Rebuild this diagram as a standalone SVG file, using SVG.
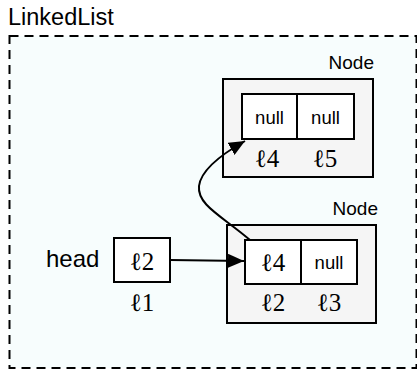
<svg xmlns="http://www.w3.org/2000/svg" width="417" height="372" viewBox="0 0 417 372">
<style>
.sans{font-family:"Liberation Sans",Arial,sans-serif;fill:#000}
.math{font-family:"Liberation Serif","DejaVu Serif",serif;font-size:25px;fill:#000;text-anchor:middle}
.nul{font-family:"Liberation Sans",Arial,sans-serif;font-size:18.5px;text-anchor:middle}
.lbl{font-size:19px;text-anchor:end}
.node{fill:#f5f5f5;stroke:#000;stroke-width:2}
.cell{fill:#fff;stroke:#000;stroke-width:2}
.conn{fill:none;stroke:#000;stroke-width:2}
</style>
<defs>
<marker id="ah2" viewBox="0 0 16 14" refX="16" refY="7" markerWidth="16" markerHeight="14" markerUnits="userSpaceOnUse" orient="auto">
<path d="M0,0 L16,7 L0,14 z" fill="#000"/>
</marker>
</defs>
<g id="linkedlist">
<rect x="9.5" y="36" width="407" height="332" fill="#f7fdfd" stroke="#000" stroke-width="2" stroke-dasharray="9,6"/>
<text class="sans" x="8" y="25" font-size="23.5">LinkedList</text>
</g>
<g id="node-top">
<rect class="node" x="223" y="79" width="150" height="98"/>
<text class="sans lbl" x="374" y="69">Node</text>
<rect class="cell" x="242" y="94" width="55" height="45"/>
<rect class="cell" x="297" y="94" width="57" height="45"/>
<text class="nul" x="269.5" y="124">null</text>
<text class="nul" x="325.5" y="124">null</text>
<text class="math" x="267" y="167">ℓ4</text>
<text class="math" x="325" y="167">ℓ5</text>
</g>
<g id="node-bottom">
<rect class="node" x="227" y="225" width="149" height="98"/>
<text class="sans lbl" x="378" y="215">Node</text>
<rect class="cell" x="245" y="240" width="56" height="44"/>
<rect class="cell" x="301" y="240" width="56" height="44"/>
<text class="math" x="273" y="271">ℓ4</text>
<text class="nul" x="329" y="269">null</text>
<text class="math" x="273" y="311">ℓ2</text>
<text class="math" x="329" y="311">ℓ3</text>
</g>
<g id="head">
<text class="sans" x="46" y="267" font-size="24">head</text>
<rect class="cell" x="114" y="238" width="56" height="44"/>
<text class="math" x="142" y="270">ℓ2</text>
<text class="math" x="142" y="311">ℓ1</text>
</g>
<g id="connectors">
<path class="conn" d="M170,260 L244,261" marker-end="url(#ah2)"/>
<path class="conn" d="M250,240 C222,216 197,205 199,186 C201,170 222,154 245,141" marker-end="url(#ah2)"/>
</g>
</svg>
